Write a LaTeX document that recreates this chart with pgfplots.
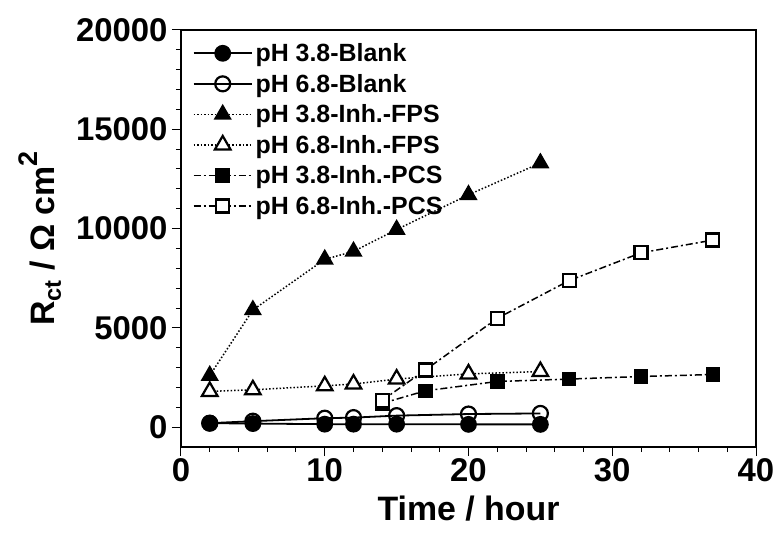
\documentclass[border=0pt]{standalone}
\usepackage{pgfplots}
\pgfplotsset{compat=1.18}
\usepackage{fontspec}
\setmainfont{Liberation Sans}

\begin{document}
\begin{tikzpicture}
\begin{axis}[
  name=ax,
  scale only axis,
  width=575bp,
  height=417bp,
  xmin=0, xmax=40,
  ymin=-1000, ymax=20000,
  xtick={0,10,20,30,40},
  ytick={0,5000,10000,15000,20000},
  scaled y ticks=false,
  scaled x ticks=false,
  minor x tick num=4,
  minor y tick num=4,
  tick pos=left,
  tick align=outside,
  major tick length=9bp,
  minor tick length=5bp,
  axis line style={line width=1.2bp},
  every tick/.style={line width=1bp, black},
  /pgf/number format/assume math mode=true,
  /pgf/number format/1000 sep={},
  ticklabel style={font=\fontsize{33}{38}\selectfont\bfseries},
  yticklabel style={xshift=-1bp},
  xticklabel style={yshift=1bp},
  xlabel={Time / hour},
  ylabel={R\textsubscript{ct} / Ω cm\raisebox{0.5em}{\fontsize{27}{27}\selectfont 2}},
  xlabel style={font=\fontsize{34}{38}\selectfont\bfseries, yshift=-7bp},
  ylabel style={font=\fontsize{34}{38}\selectfont\bfseries, yshift=8bp},
  legend cell align=left,
  legend style={draw=none, fill=none, at={(0.015,0.98)}, anchor=north west,
    row sep=5bp,
    nodes={inner sep=3bp, font=\fontsize{25}{28}\selectfont\bfseries}},
  legend image code/.code={%
    \draw[mark repeat=2,mark phase=2] plot coordinates {(0bp,0bp) (29bp,0bp) (58bp,0bp)};},
]
\addplot[black, line width=1.8bp, mark=*, mark size=7.5bp, mark options={solid, fill=black}]
  coordinates {(2,200) (5,180) (10,150) (12,150) (15,150) (20,140) (25,140)};
\addlegendentry{pH 3.8-Blank}
\addplot[black, line width=1.8bp, mark=o, mark size=7.5bp, mark options={solid, fill=white, line width=2.2bp}]
  coordinates {(2,200) (5,300) (10,450) (12,480) (15,580) (20,660) (25,690)};
\addlegendentry{pH 6.8-Blank}
\addplot[black, line width=1.5bp, dotted, mark=triangle*, mark size=9bp, mark options={solid, fill=black}]
  coordinates {(2,2600) (5,5900) (10,8450) (12,8850) (15,9950) (20,11700) (25,13300)};
\addlegendentry{pH 3.8-Inh.-FPS}
\addplot[black, line width=1.5bp, dotted, mark=triangle*, mark size=9bp, mark options={solid, fill=white, line width=2.2bp}]
  coordinates {(2,1800) (5,1880) (10,2080) (12,2170) (15,2420) (20,2680) (25,2800)};
\addlegendentry{pH 6.8-Inh.-FPS}
\addplot[black, line width=1.5bp, dash pattern=on 7bp off 3bp on 2bp off 3bp, mark=square*, mark size=6.5bp, mark options={solid, fill=black}]
  coordinates {(14,1200) (17,1830) (22,2300) (27,2420) (32,2550) (37,2650)};
\addlegendentry{pH 3.8-Inh.-PCS}
\addplot[black, line width=1.5bp, dash pattern=on 7bp off 3bp on 2bp off 3bp, mark=square*, mark size=6.5bp, mark options={solid, fill=white, line width=2.2bp}]
  coordinates {(14,1350) (17,2880) (22,5480) (27,7380) (32,8780) (37,9420)};
\addlegendentry{pH 6.8-Inh.-PCS}
\end{axis}
\pgfresetboundingbox
\path ([shift={(-181bp,-93bp)}]ax.south west) rectangle ([shift={(19bp,30bp)}]ax.north east);
\end{tikzpicture}
\end{document}
